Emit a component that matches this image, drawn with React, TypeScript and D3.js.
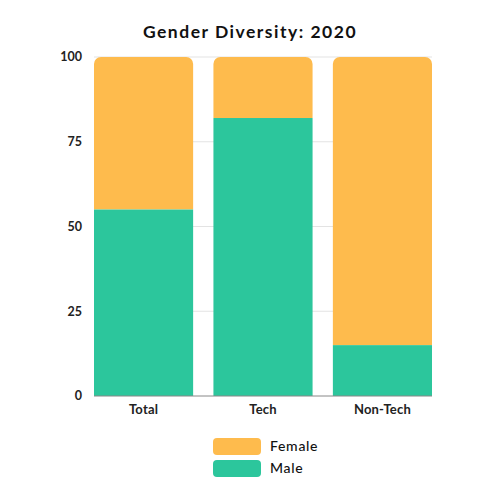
import { useEffect, useRef } from 'react'
import * as d3 from 'd3'

const categories = ['Total', 'Tech', 'Non-Tech']
const male = [55, 82, 15]
const female = [45, 18, 85]
const yTicks = [0, 25, 50, 75, 100]
const seriesNames = ['Female', 'Male']

const COLORS: Record<string, string> = { Female: '#FEBB4D', Male: '#2CC69C' }

export default function App() {
  const svgRef = useRef<SVGSVGElement>(null)

  useEffect(() => {
    if (!svgRef.current) return
    const svg = d3.select(svgRef.current)
    svg.selectAll('*').remove()

    const font = 'Lato, "Open Sans", sans-serif'
    const x = d3.scaleBand<string>().domain(categories).range([94, 432]).paddingInner(0.17).paddingOuter(0)
    const y = d3.scaleLinear().domain([0, 100]).range([396, 57])

    svg.append('text')
      .attr('x', 250).attr('y', 38)
      .attr('text-anchor', 'middle')
      .attr('font-family', font)
      .attr('font-size', 17.5)
      .attr('font-weight', 700)
      .attr('letter-spacing', 1.5)
      .attr('fill', '#111')
      .text('Gender Diversity: 2020')

    // grid
    svg.append('g').selectAll('line')
      .data(yTicks.filter(t => t > 0))
      .join('line')
      .attr('x1', 94).attr('x2', 432)
      .attr('y1', d => y(d)).attr('y2', d => y(d))
      .attr('stroke', '#e3e3e3').attr('stroke-width', 1)

    svg.append('g').selectAll('text')
      .data(yTicks)
      .join('text')
      .attr('x', 82).attr('y', d => y(d))
      .attr('dy', '0.35em')
      .attr('text-anchor', 'end')
      .attr('font-family', font)
      .attr('font-size', 12.5)
      .attr('font-weight', 700)
      .attr('fill', '#222')
      .text(d => d)

    const r = 7
    const rows = categories.map((c, i) => ({ c, male: male[i], female: female[i] }))
    const bars = svg.append('g')
    // female (top segment, rounded top corners)
    bars.selectAll('path.f')
      .data(rows)
      .join('path')
      .attr('class', 'f')
      .attr('fill', COLORS.Female)
      .attr('d', d => {
        const x0 = x(d.c)!, w = x.bandwidth()
        const top = y(d.male + d.female), bot = y(d.male)
        const p = d3.path()
        p.moveTo(x0, bot)
        p.lineTo(x0, top + r)
        p.arcTo(x0, top, x0 + r, top, r)
        p.lineTo(x0 + w - r, top)
        p.arcTo(x0 + w, top, x0 + w, top + r, r)
        p.lineTo(x0 + w, bot)
        p.closePath()
        return p.toString()
      })
    bars.selectAll('rect.m')
      .data(rows)
      .join('rect')
      .attr('class', 'm')
      .attr('x', d => x(d.c)!)
      .attr('width', x.bandwidth())
      .attr('y', d => y(d.male))
      .attr('height', d => y(0) - y(d.male))
      .attr('fill', COLORS.Male)

    svg.append('line')
      .attr('x1', 94).attr('x2', 432)
      .attr('y1', y(0)).attr('y2', y(0))
      .attr('stroke', '#888').attr('stroke-width', 1)

    svg.append('g').selectAll('text')
      .data(categories)
      .join('text')
      .attr('x', d => x(d)! + x.bandwidth() / 2)
      .attr('y', 414)
      .attr('text-anchor', 'middle')
      .attr('font-family', font)
      .attr('font-size', 13)
      .attr('font-weight', 700)
      .attr('letter-spacing', 0.2)
      .attr('fill', '#222')
      .text(d => d)

    const lg = svg.append('g')
    seriesNames.forEach((s, i) => {
      const yy = 438 + i * 22
      lg.append('rect')
        .attr('x', 213).attr('y', yy)
        .attr('width', 48).attr('height', 17)
        .attr('rx', 4)
        .attr('fill', COLORS[s])
      lg.append('text')
        .attr('x', 270).attr('y', yy + 8.5)
        .attr('dy', '0.35em')
        .attr('font-family', font)
        .attr('font-size', 14)
        .attr('font-weight', 500)
        .attr('letter-spacing', 0.7)
        .attr('fill', '#111')
        .text(s)
    })
  }, [])

  return (
    <div style={{ margin: -8, width: 500, height: 500, background: '#fff' }}>
      <svg ref={svgRef} width={500} height={500} />
    </div>
  )
}
